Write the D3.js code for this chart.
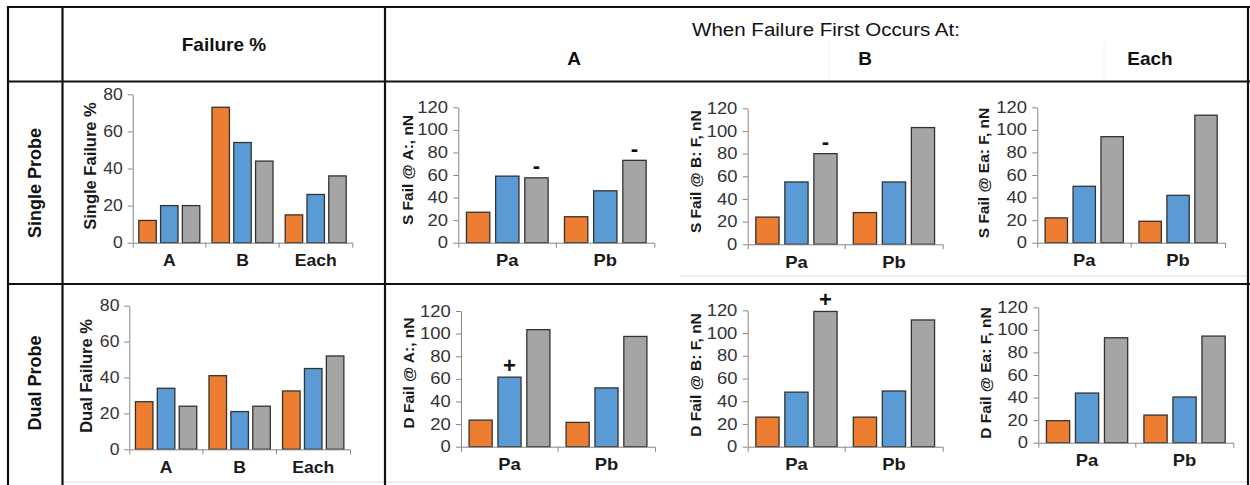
<!DOCTYPE html>
<html>
<head>
<meta charset="utf-8">
<script src="https://cdn.jsdelivr.net/npm/d3@7"></script>
<style>
  body { margin: 0; background: #fff; }
  svg { display: block; font-family: "Liberation Sans", Arial, sans-serif; }
</style>
</head>
<body>
<svg id="chart" width="1250" height="485"></svg>
<script>
// ---- data -------------------------------------------------------------
const seriesKeys   = ["s1", "s2", "s3"];
const seriesColors = ["#ED7D31", "#5B9BD5", "#A5A5A5"];

const locationCats = ["A", "B", "Each"];
const probeCats    = ["Pa", "Pb"];

const pctTicks   = [0, 20, 40, 60, 80];
const forceTicks = [0, 20, 40, 60, 80, 100, 120];

// failure percentage per location (rows: A, B, Each; columns: series)
const singleFailPct = [[12, 20, 20], [73, 54, 44], [15, 26, 36]];
const dualFailPct   = [[26.5, 34, 24], [41, 21, 24], [32.5, 45, 52]];

// force at first failure, nN (rows: Pa, Pb; columns: series)
const sFailA  = [[27, 59, 57.5], [23, 46, 73]];
const sFailB  = [[24, 55, 80], [28, 55, 103]];
const sFailEa = [[22, 50, 94], [19, 42, 113]];
const dFailA  = [[23.5, 61.5, 103.5], [21.5, 52, 97.5]];
const dFailB  = [[26, 48, 119], [26, 49, 111.5]];
const dFailEa = [[19.5, 44, 93], [24.5, 40.5, 94.5]];

// significance markers placed above individual bars
const markers = [
  { panel: "sA", cat: "Pa", series: 2, sign: "-" },
  { panel: "sA", cat: "Pb", series: 2, sign: "-" },
  { panel: "sB", cat: "Pa", series: 2, sign: "-" },
  { panel: "dA", cat: "Pa", series: 1, sign: "+" },
  { panel: "dB", cat: "Pa", series: 2, sign: "+" }
];

// ---- panel layout -----------------------------------------------------
const panels = [
  { id: "sf", title: "Single Failure %",  cats: locationCats, values: singleFailPct, ticks: pctTicks,
    x0: 132.7, x1: 352.3, y0: 242.7, y1: 94.3, tx: 90,  ty: 166, tsize: 16.5, sx: 1.1 },
  { id: "df", title: "Dual Failure %",    cats: locationCats, values: dualFailPct,   ticks: pctTicks,
    x0: 129.3, x1: 350,   y0: 449.3, y1: 305.7, tx: 86, ty: 376, tsize: 16.5, sx: 1.1 },
  { id: "sA", title: "S Fail @ A:, nN",   cats: probeCats, values: sFailA,  ticks: forceTicks,
    x0: 458.3, x1: 654.3, y0: 242.7, y1: 107.3, tx: 407.7, ty: 170, tsize: 15.5, sx: 1.15 },
  { id: "sB", title: "S Fail @ B: F, nN", cats: probeCats, values: sFailB,  ticks: forceTicks,
    x0: 747.7, x1: 942.7, y0: 244.3, y1: 108.3, tx: 695, ty: 171.7, tsize: 15.5, sx: 1.15 },
  { id: "sE", title: "S Fail @ Ea: F, nN", cats: probeCats, values: sFailEa, ticks: forceTicks,
    x0: 1037.3, x1: 1225, y0: 242.7, y1: 107.3, tx: 983.3, ty: 173, tsize: 15.5, sx: 1.15 },
  { id: "dA", title: "D Fail @ A:, nN",   cats: probeCats, values: dFailA,  ticks: forceTicks,
    x0: 461, x1: 655, y0: 446.7, y1: 311, tx: 408.3, ty: 373, tsize: 15.5, sx: 1.15 },
  { id: "dB", title: "D Fail @ B: F, nN", cats: probeCats, values: dFailB,  ticks: forceTicks,
    x0: 747.7, x1: 942.7, y0: 446.7, y1: 310.3, tx: 695, ty: 375, tsize: 15.5, sx: 1.15 },
  { id: "dE", title: "D Fail @ Ea: F, nN", cats: probeCats, values: dFailEa, ticks: forceTicks,
    x0: 1038.3, x1: 1233.3, y0: 442.7, y1: 307.3, tx: 985, ty: 373, tsize: 15.5, sx: 1.15 }
];

const svg = d3.select("#chart");
const axisColor = "#868686";
const labelColor = "#333333";

// ---- table frame ------------------------------------------------------
const grid = svg.append("g").attr("class", "grid");
// faint chart-object edges
[[680, 276, 1248, 276], [62, 482, 1248, 482]].forEach(([a, b, c, d]) =>
  grid.append("line").attr("x1", a).attr("y1", b).attr("x2", c).attr("y2", d)
    .attr("stroke", "#d9d9d9").attr("stroke-width", 1));
[[829, 42, 829, 80], [1104, 42, 1104, 80]].forEach(([a, b, c, d]) =>
  grid.append("line").attr("x1", a).attr("y1", b).attr("x2", c).attr("y2", d)
    .attr("stroke", "#f2f2f2").attr("stroke-width", 1));
// heavy cell borders
const borders = [
  [8, 7, 1250, 7], [8, 81.5, 1250, 81.5], [8, 284, 1250, 284],
  [8, 6, 8, 485], [62.5, 6, 62.5, 485], [385, 6, 385, 485], [1248, 6, 1248, 485]
];
borders.forEach(([a, b, c, d]) =>
  grid.append("line").attr("x1", a).attr("y1", b).attr("x2", c).attr("y2", d)
    .attr("stroke", "#111").attr("stroke-width", 2.2));

// ---- headers ----------------------------------------------------------
const head = svg.append("g").attr("fill", "#111");
head.append("text").attr("x", 224).attr("y", 44).attr("text-anchor", "middle")
  .attr("dominant-baseline", "central").attr("font-weight", "bold").attr("font-size", 19)
  .text("Failure %");
head.append("text").attr("x", 826).attr("y", 29).attr("text-anchor", "middle")
  .attr("dominant-baseline", "central").attr("font-size", 19)
  .attr("transform", "translate(826,0) scale(1.08,1) translate(-826,0)")
  .text("When Failure First Occurs At:");
[["A", 574], ["B", 865], ["Each", 1150]].forEach(([t, x]) =>
  head.append("text").attr("x", x).attr("y", 58).attr("text-anchor", "middle")
    .attr("dominant-baseline", "central").attr("font-weight", "bold").attr("font-size", 19)
    .text(t));
[["Single Probe", 183], ["Dual Probe", 383]].forEach(([t, y]) =>
  head.append("text").attr("transform", `translate(35,${y}) rotate(-90)`)
    .attr("text-anchor", "middle").attr("dominant-baseline", "central")
    .attr("font-weight", "bold").attr("font-size", 18).text(t));

// ---- bar panels -------------------------------------------------------
const markerBy = d3.group(markers, d => d.panel);

panels.forEach(p => {
  const g = svg.append("g").attr("class", "panel-" + p.id);
  const x = d3.scaleBand().domain(p.cats).range([p.x0, p.x1]);
  const xs = d3.scaleBand().domain(seriesKeys).range([0, x.bandwidth()])
    .paddingInner(0.2).paddingOuter(0.28);
  const yMax = d3.max(p.ticks);
  const y = d3.scaleLinear().domain([0, yMax]).range([p.y0, p.y1]);

  // bars
  p.cats.forEach((c, ci) => {
    g.selectAll(null).data(p.values[ci]).join("rect")
      .attr("x", (v, si) => x(c) + xs(seriesKeys[si]))
      .attr("y", v => y(v))
      .attr("width", xs.bandwidth())
      .attr("height", v => y(0) - y(v))
      .attr("fill", (v, si) => seriesColors[si])
      .attr("stroke", "#333").attr("stroke-width", 1.3);
  });

  // y axis
  const ya = g.append("g").attr("transform", `translate(${p.x0},0)`)
    .call(d3.axisLeft(y).tickValues(p.ticks).tickSizeInner(5).tickSizeOuter(0).tickPadding(4));
  ya.selectAll("path, line").attr("stroke", axisColor);
  ya.selectAll("text").attr("font-size", 16).attr("fill", labelColor)
    .attr("font-family", "Liberation Sans, Arial, sans-serif")
    .attr("transform", `scale(${p.sx},1)`);

  // x axis with category labels and ticks on category boundaries
  const xa = g.append("g").attr("transform", `translate(0,${p.y0})`)
    .call(d3.axisBottom(x).tickSizeInner(0).tickSizeOuter(5).tickPadding(12));
  xa.selectAll("path, line").attr("stroke", axisColor);
  xa.selectAll("text").attr("font-size", 16).attr("font-weight", "bold").attr("fill", "#1a1a1a")
    .attr("font-family", "Liberation Sans, Arial, sans-serif")
    .attr("transform", `scale(${p.sx},1)`);
  xa.selectAll("line.boundary").data(p.cats.slice(1)).join("line").attr("class", "boundary")
    .attr("x1", c => x(c)).attr("x2", c => x(c)).attr("y1", 0).attr("y2", 5)
    .attr("stroke", axisColor);

  // axis title
  g.append("text").attr("transform", `translate(${p.tx},${p.ty}) rotate(-90)`)
    .attr("text-anchor", "middle").attr("dominant-baseline", "central")
    .attr("font-weight", "bold").attr("font-size", p.tsize).attr("fill", "#1a1a1a")
    .text(p.title);

  // markers
  (markerBy.get(p.id) || []).forEach(m => {
    const ci = p.cats.indexOf(m.cat);
    const v = p.values[ci][m.series];
    g.append("text")
      .attr("x", x(m.cat) + xs(seriesKeys[m.series]) + xs.bandwidth() / 2)
      .attr("y", y(v) - 12)
      .attr("text-anchor", "middle").attr("dominant-baseline", "central")
      .attr("font-weight", "bold").attr("font-size", 22).attr("fill", "#111")
      .text(m.sign);
  });
});
</script>
</body>
</html>
